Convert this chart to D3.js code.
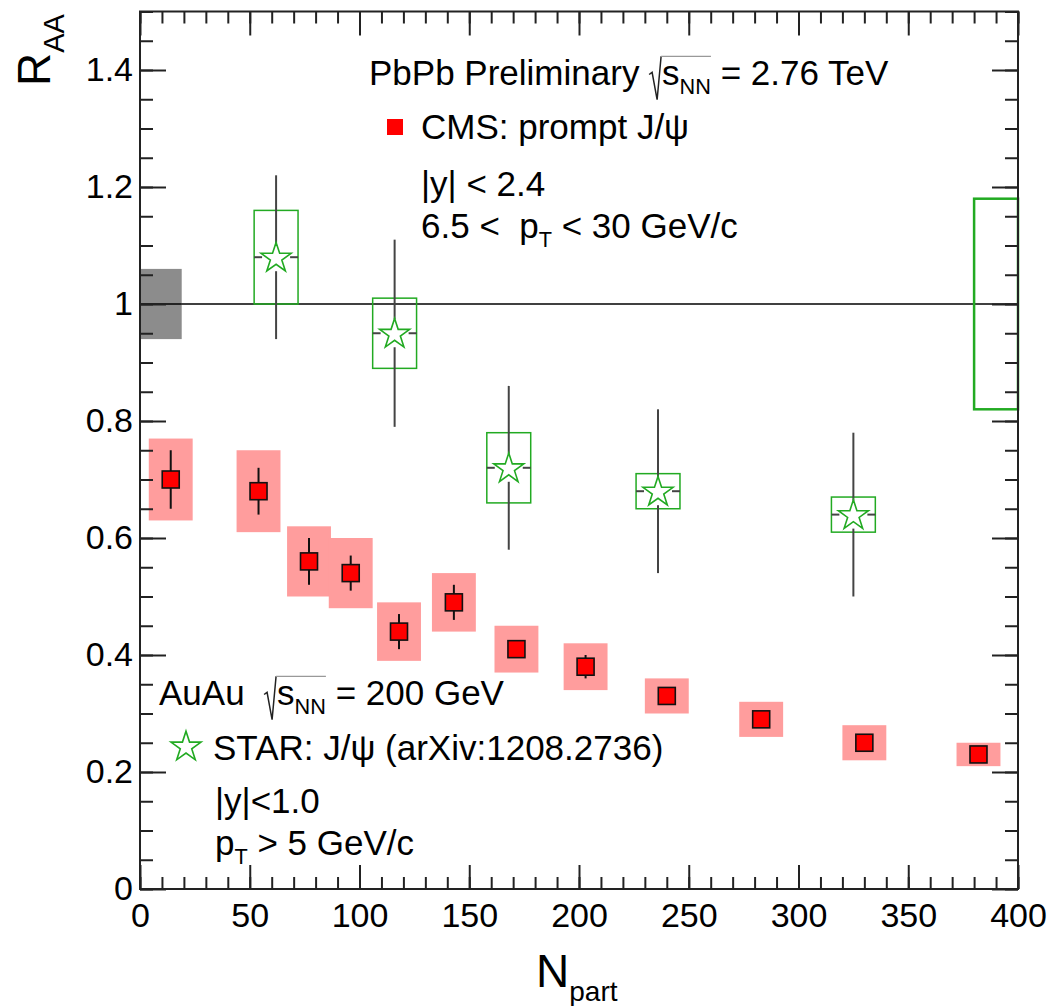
<!DOCTYPE html>
<html>
<head>
<meta charset="utf-8">
<script src="https://cdn.jsdelivr.net/npm/d3@7"></script>
<style>
  html, body { margin: 0; padding: 0; background: #fff; }
  svg { display: block; }
  text { font-family: "Liberation Sans", Arial, Helvetica, sans-serif; fill: #000; }
</style>
</head>
<body>
<svg id="chart" width="1051" height="1006"></svg>
<script>
// CMS prompt J/psi, PbPb 2.76 TeV
const nPartCMS = [14, 54, 77, 96, 118, 143, 171.5, 203, 240, 283, 330, 382];
const raaCMS   = [0.70, 0.68, 0.56, 0.54, 0.44, 0.49, 0.41, 0.38, 0.33, 0.29, 0.25, 0.23];
const statCMS  = [0.05, 0.04, 0.04, 0.03, 0.03, 0.03, 0.015, 0.02, 0.01, 0.01, 0.01, 0.01];
const systCMS  = [0.07, 0.07, 0.06, 0.06, 0.05, 0.05, 0.04, 0.04, 0.03, 0.03, 0.03, 0.02];

// STAR J/psi, AuAu 200 GeV
const nPartSTAR = [62, 116, 168, 236, 325];
const raaSTAR   = [1.08, 0.95, 0.72, 0.68, 0.64];
const statSTAR  = [0.14, 0.16, 0.14, 0.14, 0.14];
const systSTAR  = [0.08, 0.06, 0.06, 0.03, 0.03];

// global normalisation uncertainties
const globalCMS  = 0.06;
const globalSTAR = 0.18;
const systHalfWidth = 10;   // half width of systematic boxes in Npart

const xTicksMajor = [0, 50, 100, 150, 200, 250, 300, 350, 400];
const yTicksMajor = [0, 0.2, 0.4, 0.6, 0.8, 1.0, 1.2, 1.4];

const svg = d3.select("#chart");
const L = 140, R = 1018, T = 11.5, B = 889;

const x = d3.scaleLinear().domain([0, 400]).range([L, R]);
const y = d3.scaleLinear().domain([0, 1.5]).range([B, T]);

svg.append("rect").attr("width", 1051).attr("height", 1006).attr("fill", "#fff");

const plot = svg.append("g");

// reference line at unity
plot.append("line")
  .attr("x1", x(0)).attr("x2", x(400))
  .attr("y1", y(1)).attr("y2", y(1))
  .attr("stroke", "#000").attr("stroke-width", 1.3);

// global uncertainty boxes
plot.append("rect")
  .attr("x", x(0)).attr("width", x(19) - x(0))
  .attr("y", y(1 + globalCMS)).attr("height", y(1 - globalCMS) - y(1 + globalCMS))
  .attr("fill", "#8c8c8c");
plot.append("line")
  .attr("x1", x(0)).attr("x2", x(19))
  .attr("y1", y(1)).attr("y2", y(1))
  .attr("stroke", "#000").attr("stroke-width", 1.3);
plot.append("rect")
  .attr("x", x(380)).attr("width", x(400) - x(380))
  .attr("y", y(1 + globalSTAR)).attr("height", y(1 - globalSTAR) - y(1 + globalSTAR))
  .attr("fill", "none").attr("stroke", "#22aa22").attr("stroke-width", 2.5);

// CMS systematic boxes
const cms = nPartCMS.map((n, i) => ({ n, r: raaCMS[i], stat: statCMS[i], syst: systCMS[i] }));
plot.selectAll("rect.cmsSyst").data(cms).join("rect")
  .attr("class", "cmsSyst")
  .attr("x", d => x(d.n - systHalfWidth))
  .attr("width", d => x(d.n + systHalfWidth) - x(d.n - systHalfWidth))
  .attr("y", d => y(d.r + d.syst))
  .attr("height", d => y(d.r - d.syst) - y(d.r + d.syst))
  .attr("fill", "#ff9d9d");

// CMS statistical error bars
plot.selectAll("line.cmsStat").data(cms).join("line")
  .attr("class", "cmsStat")
  .attr("x1", d => x(d.n)).attr("x2", d => x(d.n))
  .attr("y1", d => y(d.r + d.stat)).attr("y2", d => y(d.r - d.stat))
  .attr("stroke", "#111").attr("stroke-width", 2);

// CMS markers
const sq = 17;
plot.selectAll("rect.cmsPt").data(cms).join("rect")
  .attr("class", "cmsPt")
  .attr("x", d => x(d.n) - sq / 2).attr("y", d => y(d.r) - sq / 2)
  .attr("width", sq).attr("height", sq)
  .attr("fill", "#ff0000").attr("stroke", "#111").attr("stroke-width", 1.6);

// STAR systematic boxes
const star = nPartSTAR.map((n, i) => ({ n, r: raaSTAR[i], stat: statSTAR[i], syst: systSTAR[i] }));
plot.selectAll("rect.starSyst").data(star).join("rect")
  .attr("class", "starSyst")
  .attr("x", d => x(d.n - systHalfWidth))
  .attr("width", d => x(d.n + systHalfWidth) - x(d.n - systHalfWidth))
  .attr("y", d => y(d.r + d.syst))
  .attr("height", d => y(d.r - d.syst) - y(d.r + d.syst))
  .attr("fill", "none").attr("stroke", "#22aa22").attr("stroke-width", 1.5);

// STAR error bars, with a gap around the marker
const gap = 14;
const starBars = plot.selectAll("g.starBar").data(star).join("g").attr("class", "starBar");
starBars.append("line")
  .attr("x1", d => x(d.n)).attr("x2", d => x(d.n))
  .attr("y1", d => y(d.r + d.stat)).attr("y2", d => y(d.r) - gap);
starBars.append("line")
  .attr("x1", d => x(d.n)).attr("x2", d => x(d.n))
  .attr("y1", d => y(d.r) + gap).attr("y2", d => y(d.r - d.stat));
starBars.append("line")
  .attr("x1", d => x(d.n - systHalfWidth)).attr("x2", d => x(d.n) - gap)
  .attr("y1", d => y(d.r)).attr("y2", d => y(d.r));
starBars.append("line")
  .attr("x1", d => x(d.n) + gap).attr("x2", d => x(d.n + systHalfWidth))
  .attr("y1", d => y(d.r)).attr("y2", d => y(d.r));
starBars.selectAll("line").attr("stroke", "#444").attr("stroke-width", 2);

// STAR markers (open stars)
const starSym = d3.symbol().type(d3.symbolStar).size(280);
plot.selectAll("path.starPt").data(star).join("path")
  .attr("class", "starPt")
  .attr("transform", d => `translate(${x(d.n)},${y(d.r) + 1})`)
  .attr("d", starSym)
  .attr("fill", "none").attr("stroke", "#22aa22").attr("stroke-width", 1.6);

// ---- axes (ticks pointing inward on all four sides) ----
const axisG = svg.append("g");
const tickStyle = g => {
  g.select(".domain").remove();
  g.selectAll(".tick line").attr("stroke", "#222").attr("stroke-width", 2);
};
const xMinor = d3.range(0, 401, 10);
const yMinor = d3.range(0, 1.5001, 0.05);

axisG.append("g").attr("transform", `translate(0,${B})`)
  .call(d3.axisBottom(x).tickValues(xMinor).tickSize(-12).tickFormat(""))
  .call(tickStyle);
axisG.append("g").attr("transform", `translate(0,${B})`)
  .call(d3.axisBottom(x).tickValues(xTicksMajor).tickSize(-24).tickPadding(12).tickFormat(d3.format("d")))
  .call(tickStyle)
  .call(g => g.selectAll("text").attr("font-size", 34).attr("dy", "0.75em")
    .style("font-family", "'Liberation Sans', Arial, sans-serif"));
axisG.append("g").attr("transform", `translate(0,${T})`)
  .call(d3.axisTop(x).tickValues(xMinor).tickSize(-12).tickFormat(""))
  .call(tickStyle);
axisG.append("g").attr("transform", `translate(0,${T})`)
  .call(d3.axisTop(x).tickValues(xTicksMajor).tickSize(-24).tickFormat(""))
  .call(tickStyle);

const yFmt = d => (d === 0 ? "0" : Math.abs(d - 1) < 1e-9 ? "1" : d3.format(".1f")(d));
axisG.append("g").attr("transform", `translate(${L},0)`)
  .call(d3.axisLeft(y).tickValues(yMinor).tickSize(-13).tickFormat(""))
  .call(tickStyle);
axisG.append("g").attr("transform", `translate(${L},0)`)
  .call(d3.axisLeft(y).tickValues(yTicksMajor).tickSize(-26).tickPadding(7).tickFormat(yFmt))
  .call(tickStyle)
  .call(g => g.selectAll("text").attr("font-size", 34)
    .style("font-family", "'Liberation Sans', Arial, sans-serif"));
axisG.append("g").attr("transform", `translate(${R},0)`)
  .call(d3.axisRight(y).tickValues(yMinor).tickSize(-13).tickFormat(""))
  .call(tickStyle);
axisG.append("g").attr("transform", `translate(${R},0)`)
  .call(d3.axisRight(y).tickValues(yTicksMajor).tickSize(-26).tickFormat(""))
  .call(tickStyle);

// frame
svg.append("rect")
  .attr("x", L).attr("y", T).attr("width", R - L).attr("height", B - T)
  .attr("fill", "none").attr("stroke", "#222").attr("stroke-width", 2);

// ---- rich text helper: plain, subscript and square-root segments ----
function rich(g, x0, base, segs, fs) {
  let cx = x0, radStart = null;
  segs.forEach(s => {
    if (s.rad) {
      radStart = cx;
      const top = base - fs * 0.82;
      g.append("path")
        .attr("d", `M${cx},${base - fs * 0.3} L${cx + 3},${base - fs * 0.36} L${cx + 8},${base + fs * 0.42} L${cx + 12},${top}`)
        .attr("fill", "none").attr("stroke", "#222").attr("stroke-width", 1.5);
      cx += 13;
      return;
    }
    const size = s.sub ? fs * 0.62 : fs;
    const dy = s.sub ? fs * 0.27 : 0;
    const t = g.append("text").attr("x", cx).attr("y", base + dy)
      .attr("font-size", size).attr("xml:space", "preserve").text(s.t);
    cx += t.node().getComputedTextLength();
    if (s.endRad && radStart !== null) {
      g.append("line")
        .attr("x1", radStart + 12).attr("x2", cx)
        .attr("y1", base - fs * 0.82).attr("y2", base - fs * 0.82)
        .attr("stroke", "#999").attr("stroke-width", 1.2);
      radStart = null;
    }
  });
  return cx;
}

const fs = 35;
const leg = svg.append("g");

// CMS block
rich(leg, 369, 85, [
  { t: "PbPb Preliminary " }, { rad: true }, { t: "s" }, { t: "NN", sub: true, endRad: true },
  { t: " = 2.76 TeV" }], fs);
leg.append("rect").attr("x", 387).attr("y", 119).attr("width", 16).attr("height", 16).attr("fill", "#ff0000");
rich(leg, 421, 139, [{ t: "CMS: prompt J/ψ" }], fs);
rich(leg, 421, 196, [{ t: "|y| < 2.4" }], fs);
rich(leg, 421, 238, [{ t: "6.5 <  p" }, { t: "T", sub: true }, { t: " < 30 GeV/c" }], fs);

// STAR block
rich(leg, 159, 705, [
  { t: "AuAu  " }, { rad: true }, { t: "s" }, { t: "NN", sub: true, endRad: true },
  { t: " = 200 GeV" }], fs);
leg.append("path")
  .attr("transform", "translate(186,747)")
  .attr("d", starSym)
  .attr("fill", "none").attr("stroke", "#22aa22").attr("stroke-width", 1.6);
rich(leg, 213, 760, [{ t: "STAR: J/ψ (arXiv:1208.2736)" }], fs);
rich(leg, 215, 813, [{ t: "|y|<1.0" }], fs);
rich(leg, 215, 855, [{ t: "p" }, { t: "T", sub: true }, { t: " > 5 GeV/c" }], fs);

// axis titles
const xt = svg.append("text").attr("x", 536).attr("y", 987).attr("font-size", 46);
xt.append("tspan").text("N");
xt.append("tspan").attr("font-size", 28).attr("dy", 14).text("part");

const yt = svg.append("text")
  .attr("transform", "translate(50,86) rotate(-90)")
  .attr("font-size", 46);
yt.append("tspan").text("R");
yt.append("tspan").attr("font-size", 29).attr("dy", 14).text("AA");
</script>
</body>
</html>
